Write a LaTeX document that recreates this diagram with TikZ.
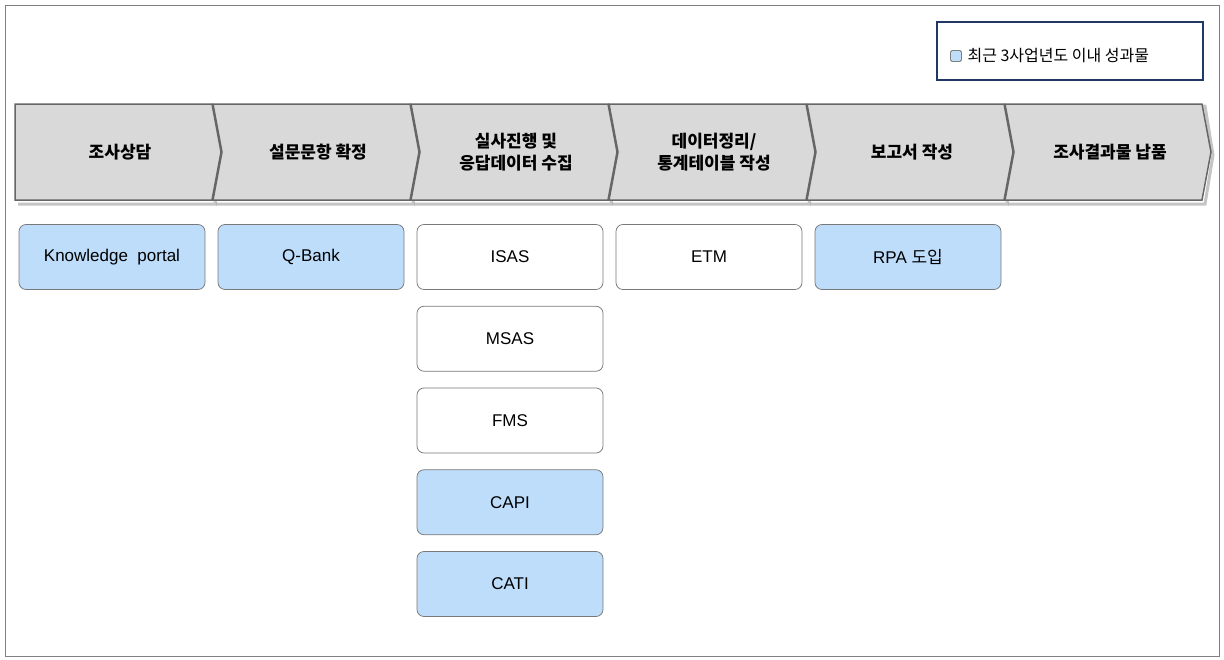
\documentclass[tikz,border=0pt]{standalone}
\usepackage{fontspec}
\setmainfont{Liberation Sans}
\newfontfamily\kr{Noto Sans CJK KR}
\usetikzlibrary{positioning}
\definecolor{stepgray}{RGB}{217,217,217}
\definecolor{resblue}{RGB}{189,221,250}
\definecolor{legblue}{RGB}{31,56,100}
\tikzset{every picture/.style={line width=0.75pt}}

\begin{document}
\begin{tikzpicture}[x=1pt,y=1pt,yscale=-1,
  toolbox/.style={draw={rgb,255:red,120;green,120;blue,120}, rounded corners=7pt, minimum width=186pt, minimum height=65pt, inner sep=0pt, font=\fontsize{17}{20}\selectfont},
  newbox/.style={toolbox, fill=resblue},
  steptext/.style={align=center, font=\kr\bfseries\fontsize{17}{22}\selectfont}]
    \useasboundingbox (0,0) rectangle (1224,659);
    %frame
    \draw [gray] (5,5) rectangle (1219,656);
    %legend
    \draw [legblue, line width=1.2pt] (937,22) rectangle (1203,80);
    \node [draw=gray, fill=resblue, rounded corners=1.5pt, minimum size=11pt, inner sep=0pt] (legsq) at (956,56) {};
    \node [right=2pt of legsq, font=\kr\fontsize{16}{20}\selectfont] (legtxt) {최근 3사업년도 이내 성과물};

    %process chevrons
    \foreach \i/\txt in {0/조사상담, 1/설문문항 확정, 2/{실사진행 및\\응답데이터 수집}, 3/{데이터정리/\\통계테이블 작성}, 4/보고서 작성, 5/조사결과물 납품} {
      \pgfmathsetmacro{\xl}{15+198*\i}
      \pgfmathsetmacro{\xr}{\xl+197}
      \draw [gray!70!black, line width=3pt, opacity=0.35] (\xl+3,106) -- (\xr+3,106) -- (\xr+11,155) -- (\xr+3,204) -- (\xl+3,204);
      \ifnum\i=0
        \draw [fill=stepgray, draw=gray!80!black, line width=1.5pt] (\xl,104) -- (\xr,104) -- (\xr+9,152) -- (\xr,200) -- (\xl,200) -- cycle;
      \else
        \draw [fill=stepgray, draw=gray!80!black, line width=1.5pt] (\xl,104) -- (\xr,104) -- (\xr+9,152) -- (\xr,200) -- (\xl,200) -- (\xl+9,152) -- cycle;
      \fi
      \node [steptext] (step\i) at (\xl+105,152) {\txt};
    }

    %tools
    \node [newbox] (kportal) at (112,257) {Knowledge\ \ portal};
    \node [newbox] (qbank) at (311,257) {Q-Bank};
    \node [toolbox] (isas) at (510,257) {ISAS};
    \node [toolbox, below=16pt of isas] (msas) {MSAS};
    \node [toolbox, below=16pt of msas] (fms) {FMS};
    \node [newbox, below=16pt of fms] (capi) {CAPI};
    \node [newbox, below=16pt of capi] (cati) {CATI};
    \node [toolbox] (etm) at (709,257) {ETM};
    \node [newbox] (rpa) at (908,257) {RPA {\kr 도입}};
\end{tikzpicture}
\end{document}
